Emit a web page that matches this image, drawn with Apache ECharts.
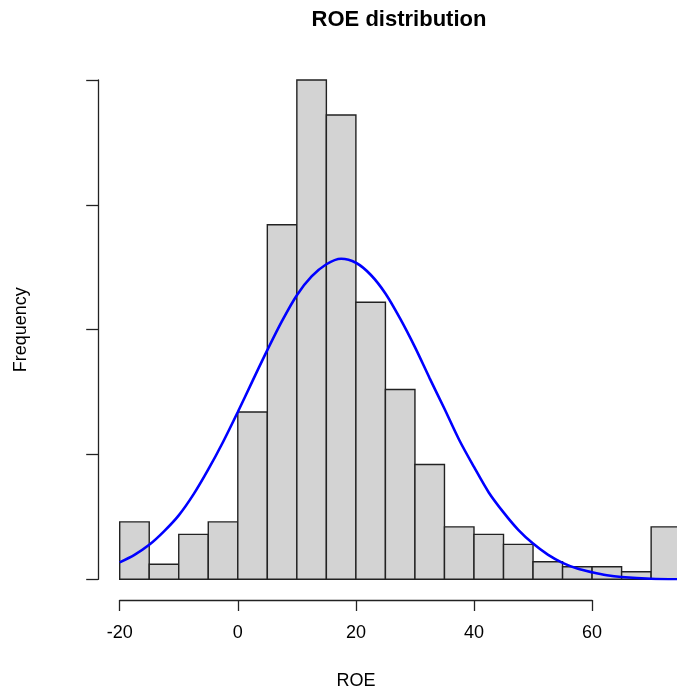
<!DOCTYPE html>
<html>
<head>
<meta charset="utf-8">
<script src="https://cdn.jsdelivr.net/npm/echarts@6/dist/echarts.min.js"></script>
<style>
html,body{margin:0;padding:0;background:#fff;}
#chart{width:677px;height:695px;}
</style>
</head>
<body>
<div id="chart"></div>
<script>
// Histogram bins (left edges, width 5)
const binStarts = [-20,-15,-10,-5,0,5,10,15,20,25,30,35,40,45,50,55,60,65,70];
const binWidth = 5;
const frequencies = [23,6,18,23,67,142,200,186,111,76,46,21,18,14,7,5,5,3,21];

// Normal curve points
const curveX = [-20,-17.5,-15,-12.5,-10,-7.5,-5,-2.5,0,2.5,5,7.5,10,12.5,15,17.5,20,22.5,25,27.5,30,32.5,35,37.5,40,42.5,45,47.5,50,52.5,55,57.5,60,62.5,65,70,75];
const curveY = [6.8,9.8,13.8,19.2,25.6,34,44,55,67,79.5,91.8,103.5,113.8,121.3,126.2,128.4,126.8,122,114.5,104.4,93,80.5,68.3,55.8,45,34.8,26.8,19.8,14.3,9.9,6.6,4.3,2.8,1.6,0.9,0.2,0];

const xTicks = [-20,0,20,40,60];
const yTicks = [0,50,100,150,200];

const titleText = 'ROE distribution';
const xName = 'ROE';
const yName = 'Frequency';

const barData = binStarts.map((s,i)=>[s, s+binWidth, frequencies[i]]);
const curveData = curveX.map((x,i)=>[x, curveY[i]]);

const FONT = 'Liberation Sans, Arial, sans-serif';
const AX = '#222';

const chart = echarts.init(document.getElementById('chart'), null, {renderer:'canvas'});
chart.setOption({
  animation:false,
  backgroundColor:'#fff',
  title:{
    text:titleText, left:394, top:4, textAlign:'center',
    textStyle:{fontFamily:FONT, fontSize:22, fontWeight:'bold', color:'#000'}
  },
  grid:[
    {left:119.7, top:80, right:0, height:499.3},
    {left:119.7, top:80, width:472.4, height:499.3}
  ],
  xAxis:[
    {gridIndex:0, type:'value', min:-20, max:74.38, show:false},
    {gridIndex:1, type:'value', min:xTicks[0], max:xTicks[xTicks.length-1], interval:20, position:'bottom', offset:20.7,
     axisLine:{show:true, onZero:false, lineStyle:{color:AX, width:1.3}},
     axisTick:{show:true, length:11, inside:false, lineStyle:{color:AX, width:1.3}},
     axisLabel:{show:true, margin:24, fontFamily:FONT, fontSize:18, color:'#000'},
     splitLine:{show:false},
     name:xName, nameLocation:'middle', nameGap:72,
     nameTextStyle:{fontFamily:FONT, fontSize:18, color:'#000'}}
  ],
  yAxis:[
    {gridIndex:0, type:'value', min:yTicks[0], max:yTicks[yTicks.length-1], interval:50, position:'left', offset:21.5,
     axisLine:{show:true, onZero:false, lineStyle:{color:AX, width:1.3}},
     axisTick:{show:true, length:12, inside:false, lineStyle:{color:AX, width:1.3}},
     axisLabel:{show:false},
     splitLine:{show:false},
     name:yName, nameLocation:'middle', nameGap:68, nameRotate:90,
     nameTextStyle:{fontFamily:FONT, fontSize:18, color:'#000'}},
    {gridIndex:1, type:'value', min:0, max:200, show:false}
  ],
  series:[
    {
      type:'custom', xAxisIndex:0, yAxisIndex:0,
      encode:{x:[0,1], y:2},
      data:barData,
      clip:false,
      renderItem:function(params, api){
        const p0 = api.coord([api.value(0), api.value(2)]);
        const p1 = api.coord([api.value(1), 0]);
        return {type:'rect',
          shape:{x:p0[0], y:p0[1], width:p1[0]-p0[0], height:p1[1]-p0[1]},
          style:{fill:'#d3d3d3', stroke:AX, lineWidth:1.4}};
      },
      z:2
    },
    {
      type:'line', xAxisIndex:0, yAxisIndex:0,
      data:curveData, smooth:0.3, showSymbol:false,
      lineStyle:{color:'#0000ff', width:2.6},
      z:3
    }
  ]
});
</script>
</body>
</html>
